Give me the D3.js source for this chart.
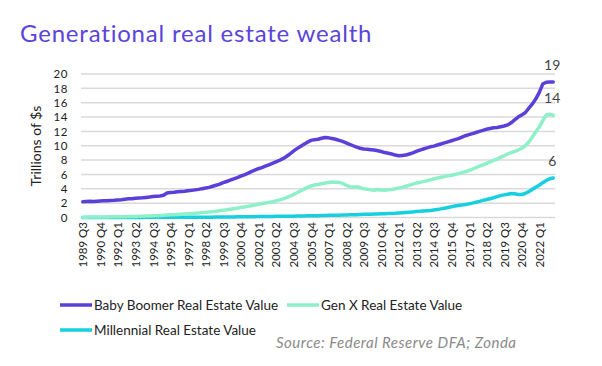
<!DOCTYPE html>
<html>
<head>
<meta charset="utf-8">
<script src="https://cdn.jsdelivr.net/npm/d3@7"></script>
<style>
  body { margin: 0; background: #fff; }
  text { font-family: Lato, "Open Sans", sans-serif; }
</style>
</head>
<body>
<svg width="602" height="366"></svg>
<script>

// quarters 1989 Q3 .. 2023 Q1
var quarters = [];
for (var y = 1989; y <= 2023; y++) {
  for (var q = 1; q <= 4; q++) {
    if (y === 1989 && q < 3) continue;
    if (y === 2023 && q > 1) continue;
    quarters.push(y + " Q" + q);
  }
}

var tickLabels = ["1989 Q3","1990 Q4","1992 Q1","1993 Q2","1994 Q3","1995 Q4","1997 Q1",
  "1998 Q2","1999 Q3","2000 Q4","2002 Q1","2003 Q2","2004 Q3","2005 Q4","2007 Q1","2008 Q2",
  "2009 Q3","2010 Q4","2012 Q1","2013 Q2","2014 Q3","2015 Q4","2017 Q1","2018 Q2","2019 Q3",
  "2020 Q4","2022 Q1"];

var yTicks = [0, 2, 4, 6, 8, 10, 12, 14, 16, 18, 20];

var boomer = [
  2.20, 2.22, 2.25, 2.24, 2.28, 2.30, 2.32, 2.35, 2.38, 2.40,
  2.44, 2.48, 2.55, 2.60, 2.62, 2.68, 2.72, 2.75, 2.80, 2.85,
  2.92, 2.96, 3.00, 3.10, 3.42, 3.48, 3.52, 3.58, 3.62, 3.66,
  3.72, 3.78, 3.85, 3.92, 4.02, 4.10, 4.20, 4.35, 4.50, 4.65,
  4.85, 5.02, 5.20, 5.38, 5.55, 5.75, 5.95, 6.15, 6.40, 6.60,
  6.80, 6.95, 7.15, 7.35, 7.55, 7.75, 7.95, 8.20, 8.50, 8.85,
  9.25, 9.60, 9.90, 10.20, 10.50, 10.75, 10.85, 10.90, 11.05, 11.15,
  11.10, 11.00, 10.90, 10.75, 10.60, 10.40, 10.20, 10.00, 9.80, 9.65,
  9.55, 9.50, 9.45, 9.40, 9.30, 9.20, 9.05, 8.95, 8.85, 8.70,
  8.60, 8.65, 8.70, 8.85, 9.00, 9.20, 9.40, 9.55, 9.70, 9.85,
  9.95, 10.10, 10.25, 10.40, 10.55, 10.70, 10.85, 11.00, 11.20, 11.40,
  11.55, 11.70, 11.85, 12.00, 12.15, 12.30, 12.40, 12.50, 12.55, 12.65,
  12.75, 12.90, 13.20, 13.60, 14.00, 14.30, 14.60, 15.20, 15.80, 16.50,
  17.40, 18.60, 18.85, 18.90, 18.90
];

var genX = [
  0.05, 0.05, 0.06, 0.06, 0.07, 0.07, 0.08, 0.08, 0.09, 0.10,
  0.10, 0.11, 0.12, 0.13, 0.14, 0.15, 0.17, 0.18, 0.20, 0.22,
  0.24, 0.26, 0.28, 0.30, 0.36, 0.38, 0.40, 0.43, 0.46, 0.50,
  0.53, 0.56, 0.60, 0.64, 0.68, 0.72, 0.76, 0.82, 0.88, 0.94,
  1.00, 1.07, 1.14, 1.22, 1.30, 1.38, 1.46, 1.55, 1.65, 1.75,
  1.85, 1.95, 2.02, 2.10, 2.20, 2.32, 2.45, 2.60, 2.78, 2.98,
  3.20, 3.45, 3.70, 3.95, 4.20, 4.40, 4.52, 4.60, 4.70, 4.80,
  4.88, 4.95, 4.90, 4.90, 4.75, 4.50, 4.30, 4.25, 4.30, 4.15,
  4.00, 3.95, 3.85, 3.80, 3.90, 3.82, 3.80, 3.85, 3.90, 4.00,
  4.10, 4.20, 4.35, 4.50, 4.65, 4.80, 4.90, 5.00, 5.12, 5.25,
  5.38, 5.50, 5.60, 5.70, 5.80, 5.90, 6.00, 6.12, 6.25, 6.40,
  6.55, 6.75, 6.95, 7.15, 7.35, 7.55, 7.75, 7.95, 8.15, 8.40,
  8.60, 8.85, 9.05, 9.20, 9.40, 9.65, 10.00, 10.50, 11.20, 11.90,
  12.60, 13.50, 14.30, 14.40, 14.25
];

var millennial = [
  0.00, 0.00, 0.00, 0.00, 0.00, 0.00, 0.00, 0.00, 0.00, 0.00,
  0.01, 0.01, 0.01, 0.01, 0.01, 0.01, 0.01, 0.01, 0.02, 0.02,
  0.02, 0.02, 0.02, 0.02, 0.03, 0.03, 0.03, 0.03, 0.03, 0.03,
  0.03, 0.04, 0.04, 0.04, 0.04, 0.05, 0.05, 0.05, 0.06, 0.06,
  0.07, 0.07, 0.08, 0.08, 0.09, 0.09, 0.10, 0.10, 0.11, 0.12,
  0.13, 0.13, 0.14, 0.14, 0.15, 0.16, 0.16, 0.17, 0.17, 0.18,
  0.19, 0.20, 0.21, 0.22, 0.23, 0.24, 0.25, 0.26, 0.27, 0.28,
  0.30, 0.31, 0.32, 0.33, 0.34, 0.36, 0.37, 0.38, 0.40, 0.42,
  0.44, 0.45, 0.47, 0.48, 0.50, 0.52, 0.53, 0.55, 0.56, 0.58,
  0.62, 0.66, 0.70, 0.74, 0.78, 0.82, 0.86, 0.90, 0.94, 0.98,
  1.05, 1.12, 1.20, 1.30, 1.40, 1.50, 1.60, 1.68, 1.75, 1.80,
  1.90, 2.00, 2.12, 2.25, 2.38, 2.50, 2.62, 2.75, 2.90, 3.05,
  3.15, 3.25, 3.35, 3.30, 3.20, 3.20, 3.35, 3.60, 3.90, 4.20,
  4.50, 4.85, 5.15, 5.40, 5.50
];

var seriesNames = ["Baby Boomer Real Estate Value", "Gen X Real Estate Value", "Millennial Real Estate Value"];
var endLabels = ["19", "14", "6"];
var colors = ["#5b3fd9", "#8ef0c9", "#18cfdf"];

var svg = d3.select("svg");

var x = d3.scalePoint()
    .domain(quarters)
    .range([81, 555])
    .padding(0.5);

var y = d3.scaleLinear()
    .domain([0, 20])
    .range([217.5, 74]);

// title
svg.append("text")
    .attr("x", 20)
    .attr("y", 42)
    .style("font-size", "24px")
    .style("letter-spacing", "0.8px")
    .style("fill", "#5b44d9")
    .text("Generational real estate wealth");

// gridlines
svg.append("g")
  .selectAll("line")
  .data(yTicks)
  .enter()
  .append("line")
    .attr("x1", 81)
    .attr("x2", 555)
    .attr("y1", function(d) { return y(d); })
    .attr("y2", function(d) { return y(d); })
    .style("stroke", "#d9d9d9")
    .style("stroke-width", 1.5);

// y axis labels
var yAxis = svg.append("g")
    .attr("transform", "translate(78,0)")
    .call(d3.axisLeft(y).tickValues(yTicks).tickSize(0).tickPadding(10));
yAxis.select(".domain").remove();
yAxis.selectAll("text")
    .style("font-family", "Lato, sans-serif")
    .style("font-size", "11.5px")
    .style("letter-spacing", "0.6px")
    .style("fill", "#222");

svg.append("text")
    .attr("transform", "translate(41,146) rotate(-90)")
    .attr("text-anchor", "middle")
    .style("font-size", "14px")
    .style("fill", "#222")
    .text("Trillions of $s");

// x axis labels
var xAxis = svg.append("g")
    .attr("transform", "translate(0,218)")
    .call(d3.axisBottom(x).tickValues(tickLabels).tickSize(0));
xAxis.select(".domain").remove();
xAxis.selectAll("text")
    .attr("transform", "rotate(-90)")
    .attr("x", -4)
    .attr("y", 0)
    .attr("dy", "0.35em")
    .attr("text-anchor", "end")
    .style("font-family", "Lato, sans-serif")
    .style("font-size", "11.5px")
    .style("fill", "#222");

// lines
var allSeries = [boomer, genX, millennial];
var line = d3.line()
    .x(function(d, i) { return x(quarters[i]); })
    .y(function(d) { return y(d); });

svg.append("g")
  .selectAll("path")
  .data(allSeries.slice().reverse())
  .enter()
  .append("path")
    .attr("d", line)
    .style("fill", "none")
    .style("stroke", function(d, i) { return colors[2 - i]; })
    .style("stroke-width", 3.5)
    .style("stroke-linejoin", "round")
    .style("stroke-linecap", "round");

// end value labels
svg.append("g")
  .selectAll("text")
  .data(allSeries)
  .enter()
  .append("text")
    .attr("x", function(d) { return x(quarters[d.length - 1]) - 1; })
    .attr("y", function(d) { return y(d[d.length - 1]) - 12; })
    .attr("text-anchor", "middle")
    .style("font-size", "14px")
    .style("fill", "#444")
    .text(function(d, i) { return endLabels[i]; });

// legend
var legendPos = [[60, 305], [287, 305], [60, 330]];
var legend = svg.append("g")
  .selectAll("g")
  .data(seriesNames)
  .enter()
  .append("g")
    .attr("transform", function(d, i) { return "translate(" + legendPos[i][0] + "," + legendPos[i][1] + ")"; });

legend.append("line")
    .attr("x1", 0)
    .attr("x2", 32)
    .style("stroke", function(d, i) { return colors[i]; })
    .style("stroke-width", 3.5);

legend.append("text")
    .attr("x", 34)
    .attr("dy", "0.35em")
    .style("font-size", "13.5px")
    .style("fill", "#222")
    .text(function(d) { return d; });

// source
svg.append("text")
    .attr("x", 276)
    .attr("y", 348)
    .style("font-size", "15px")
    .style("font-style", "italic")
    .style("letter-spacing", "0.5px")
    .style("fill", "#8a8a8a")
    .text("Source: Federal Reserve DFA; Zonda");

</script>
</body>
</html>
